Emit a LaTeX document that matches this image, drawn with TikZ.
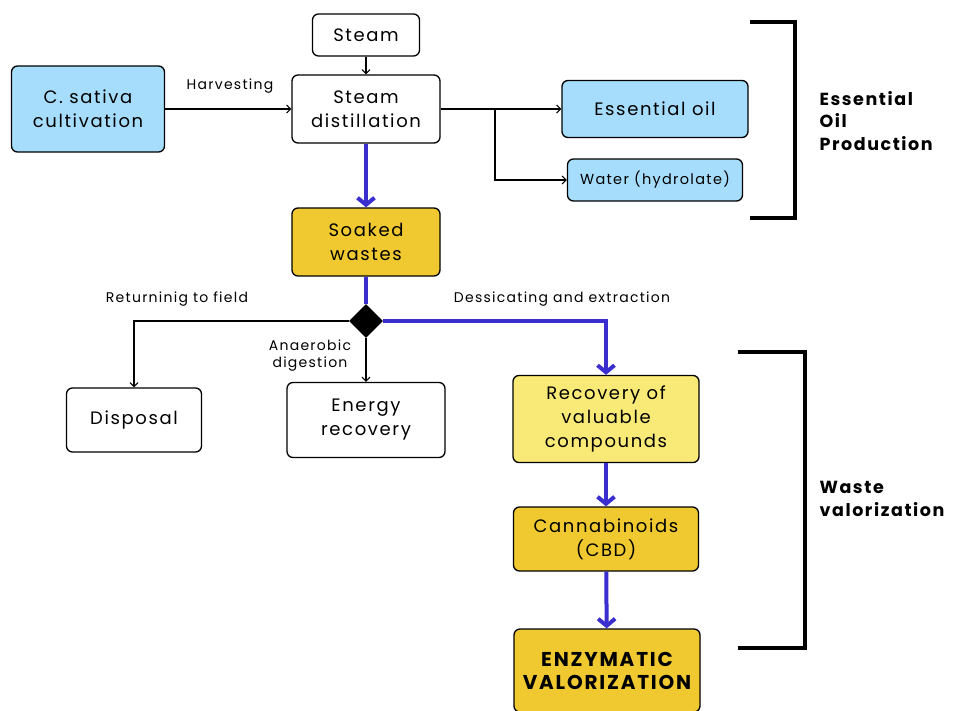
\documentclass[tikz,border=0pt]{standalone}
\usepackage{fontspec}
\setmainfont{Poppins}[LetterSpace=9]
\usetikzlibrary{arrows.meta,shapes.geometric}
\definecolor{skyblue}{HTML}{A6DDFC}
\definecolor{gold}{HTML}{F0C930}
\definecolor{paleyellow}{HTML}{F9EA78}
\definecolor{flowblue}{HTML}{3B2ECF}

\tikzset{
	box/.style={draw, rounded corners=6pt, line width=1.3pt, align=center, inner sep=0pt,
		font=\fontsize{18}{24}\selectfont},
	lbl/.style={font=\fontsize{14}{17}\selectfont, align=center},
	side/.style={font=\bfseries\fontsize{17.5}{22.5}\selectfont, align=left, anchor=west},
	blackflow/.style={line width=1.1pt, -{Straight Barb[length=4pt,width=8pt]}},
	blackline/.style={line width=1.1pt},
	blueflow/.style={flowblue, line width=4pt, -{Straight Barb[length=7pt,width=17pt,line width=4pt]}},
	blueline/.style={flowblue, line width=4pt},
	bracket/.style={line width=4.5pt}
}

\begin{document}
\begin{tikzpicture}[x=1pt, y=-1pt]
	\useasboundingbox (0,0) rectangle (953,710);
	% essential oil production
	\node[box, minimum width=107pt, minimum height=42pt] (steam) at (366,35) {Steam};
	\node[box, minimum width=148pt, minimum height=68pt] (dist) at (366,109) {Steam\\distillation};
	\node[box, fill=skyblue, minimum width=153pt, minimum height=86pt] (cult) at (88,109) {C. sativa\\cultivation};
	\node[box, fill=skyblue, minimum width=186pt, minimum height=57pt] (oil) at (655,109) {Essential oil};
	\node[box, fill=skyblue, minimum width=175pt, minimum height=42pt, font=\fontsize{14.5}{16}\selectfont] (water) at (655,180) {Water (hydrolate)};
	\node[box, fill=gold, minimum width=148pt, minimum height=68pt] (soak) at (366,242) {Soaked\\wastes};
	\node[lbl] (harv) at (230,86) {Harvesting};
	\draw[blackflow] (steam) -- (dist);
	\draw[blackflow] (cult) -- (dist);
	\draw[blackflow] (dist) -- (oil);
	\coordinate (fork) at (495,109);
	\draw[blackflow] (fork) |- (water.west);
	\draw[blueflow] (dist) -- (soak);
	% waste valorization
	\node[diamond, fill=black, inner sep=0pt, minimum width=34pt, minimum height=34pt] (dmd) at (366,321) {};
	\node[box, minimum width=135pt, minimum height=64pt] (disp) at (134,420) {Disposal};
	\node[box, minimum width=158pt, minimum height=75pt] (energy) at (366,420) {Energy\\recovery};
	\node[box, fill=paleyellow, minimum width=186pt, minimum height=87pt] (recov) at (606,419) {Recovery of\\valuable\\compounds};
	\node[box, fill=gold, minimum width=185pt, minimum height=64pt] (cbd) at (606,539) {Cannabinoids\\(CBD)};
	\node[box, fill=gold, minimum width=186pt, minimum height=83pt, font=\bfseries\fontsize{20}{23}\selectfont] (enz) at (607,670.5) {ENZYMATIC\\VALORIZATION};
	\node[lbl] (ret) at (177,299) {Returninig to field};
	\node[lbl] (dess) at (562,299) {Dessicating and extraction};
	\node[lbl] (anae) at (310,356) {Anaerobic\\digestion};
	\draw[blueline] (soak) -- (dmd);
	\draw[blueflow] (dmd.east) -| (recov.north);
	\draw[blackflow] (dmd.west) -| (disp.north);
	\draw[blackflow] (dmd.south) -- (energy.north);
	\draw[blueflow] (recov) -- (cbd);
	\draw[blueflow] (cbd) -- (enz);
	% brackets
	\draw[bracket] (750,22) -| (795,218) -- (750,218);
	\node[side] (eop) at (816,121) {Essential\\Oil\\Production};
	\draw[bracket] (738,352) -| (805,648) -- (738,648);
	\node[side] (wv) at (816,499) {Waste\\valorization};
\end{tikzpicture}
\end{document}
